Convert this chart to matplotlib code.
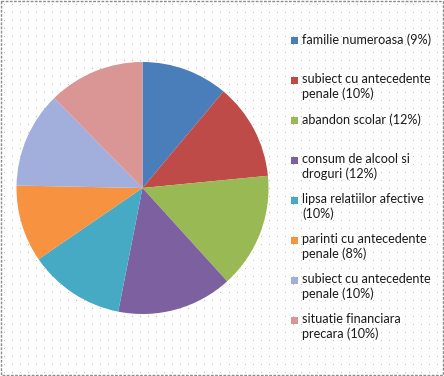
import matplotlib
matplotlib.use("Agg")
import matplotlib.pyplot as plt
import numpy as np
from matplotlib.patches import Rectangle

labels = ["familie numeroasa (9%)",
          "subiect cu antecedente\npenale (10%)",
          "abandon scolar (12%)",
          "consum de alcool si\ndroguri (12%)",
          "lipsa relatiilor afective\n(10%)",
          "parinti cu antecedente\npenale (8%)",
          "subiect cu antecedente\npenale (10%)",
          "situatie financiara\nprecara (10%)"]
values = [9, 10, 12, 12, 10, 8, 10, 10]
colors = ["#4a7ebb", "#be4b48", "#98b954", "#7d60a0",
          "#46aac5", "#f69240", "#a2aedc", "#d99694"]

W, H = 444, 376
fig = plt.figure(figsize=(W / 100, H / 100), dpi=100)
fig.patch.set_facecolor("white")

# dotted background (texture)
bg = fig.add_axes([0, 0, 1, 1])
tex = np.ones((H, W, 3))
tex[4::8, 4::8, :] = 0.76
bg.imshow(tex, extent=(0, W, H, 0), interpolation="nearest", aspect="auto")
bg.set_xlim(0, W)
bg.set_ylim(H, 0)
bg.axis("off")
bg.add_patch(Rectangle((0.5, 0.5), W - 2, H - 2, fill=False, edgecolor="#8c8c8c",
                       linewidth=1.0, linestyle=(0, (2, 1))))

# pie
cx, cy, r = 142.5, 188, 126
ax = fig.add_axes([(cx - r) / W, 1 - (cy + r) / H, 2 * r / W, 2 * r / H])
ax.pie(values, colors=colors, startangle=90, counterclock=False,
       wedgeprops=dict(linewidth=0))
ax.set_xlim(-1, 1)
ax.set_ylim(-1, 1)
ax.set_aspect("equal")
ax.axis("off")

# legend
y0 = 40
for i, (lab, col) in enumerate(zip(labels, colors)):
    y = y0 + 40 * i
    bg.add_patch(Rectangle((291, y - 3.5), 7, 7, facecolor=col, edgecolor="none"))
    bg.text(302, y - 7, lab, fontsize=9.1, family="Lato", color="#1a1a1a",
            va="top", ha="left", linespacing=1.28)

fig.savefig("out.png", dpi=100, facecolor="white")
